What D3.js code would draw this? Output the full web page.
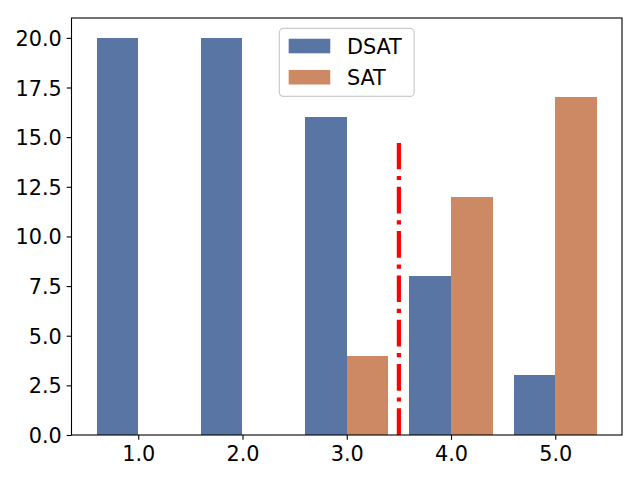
<!DOCTYPE html>
<html>
<head>
<meta charset="utf-8">
<script src="https://cdn.jsdelivr.net/npm/d3@7"></script>
<style>
  body { margin: 0; background: #fff; }
  text { font-family: "DejaVu Sans", sans-serif; fill: #000; }
</style>
</head>
<body>
<div id="chart"></div>
<script>
(function(){

    const width = 640;
    const height = 480;

    // data
    const categories = [1, 2, 3, 4, 5];
    const dsatValues = [20, 20, 16, 8, 3];
    const satValues = [0, 0, 4, 12, 17];
    const seriesNames = ['DSAT', 'SAT'];
    const yTicks = [0, 2.5, 5, 7.5, 10, 12.5, 15, 17.5, 20];
    const splitX = 3.5;       // vertical dash-dot marker
    const splitTopFrac = 0.7; // marker height as fraction of axes

    const colors = ['#5975a4', '#cc8963'];
    const barWidth = 0.4;
    const fontSize = 20.8;

    const margin = {left: 71.5, right: 18, top: 18, bottom: 45};

    const svg = d3.select("#chart")
        .append("svg")
        .attr("width", width)
        .attr("height", height);

    const x = d3.scaleLinear()
        .domain([0.36, 5.64])
        .range([margin.left, width - margin.right]);

    const y = d3.scaleLinear()
        .domain([0, 21])
        .range([height - margin.bottom, margin.top]);

    const series = [dsatValues, satValues];

    // bars
    series.forEach(function(values, si){
        svg.append("g")
            .attr("shape-rendering", "crispEdges")
            .selectAll("rect")
            .data(categories.map(function(c, i){ return {c: c, v: values[i]}; }))
            .enter().append("rect")
            .attr("x", function(d){ return si === 0 ? x(d.c - barWidth) : x(d.c); })
            .attr("width", function(d){ return x(d.c + barWidth) - x(d.c); })
            .attr("y", function(d){ return y(d.v); })
            .attr("height", function(d){ return y(0) - y(d.v); })
            .attr("fill", colors[si]);
    });

    // dash-dot line, drawn bottom to top like axvline
    const y0 = y.range()[0], y1 = y.range()[1];
    svg.append("path")
        .attr("d", d3.line()([[x(splitX), y0], [x(splitX), y0 - (y0 - y1) * splitTopFrac]]))
        .attr("stroke", "red")
        .attr("stroke-width", 4.17)
        .attr("stroke-dasharray", "26.7,6.7,4.2,6.7")
        .attr("fill", "none");

    // axes
    const xAxis = d3.axisBottom(x)
        .tickValues(categories)
        .tickFormat(d3.format(".1f"))
        .tickSizeInner(4.86)
        .tickSizeOuter(0)
        .tickPadding(4.86);

    const yAxis = d3.axisLeft(y)
        .tickValues(yTicks)
        .tickFormat(d3.format(".1f"))
        .tickSizeInner(4.86)
        .tickSizeOuter(0)
        .tickPadding(4.86);

    const gx = svg.append("g")
        .attr("transform", `translate(0,${y(0)})`)
        .call(xAxis);
    const gy = svg.append("g")
        .attr("transform", `translate(${x.range()[0]},0)`)
        .call(yAxis);

    [gx, gy].forEach(function(g){
        g.select(".domain").remove();
        g.selectAll(".tick line").attr("stroke", "#000").attr("stroke-width", 1.1);
        g.selectAll(".tick text")
            .attr("font-size", fontSize)
            .attr("font-family", '"DejaVu Sans", sans-serif')
            .attr("fill", "#000");
    });
    gx.selectAll(".tick text").attr("dy", "0.76em");
    gy.selectAll(".tick text").attr("dy", "0.36em");

    // frame
    svg.append("rect")
        .attr("x", x.range()[0])
        .attr("y", y.range()[1])
        .attr("width", x.range()[1] - x.range()[0])
        .attr("height", y.range()[0] - y.range()[1])
        .attr("fill", "none")
        .attr("stroke", "#000")
        .attr("stroke-width", 1.1);

    // legend, upper center
    const legend = svg.append("g");
    const legendTop = y.range()[1] + 0.5 * fontSize;
    const pad = 0.4 * fontSize;
    const handleLen = 2 * fontSize;
    const textPad = 0.8 * fontSize;
    const rowH = 1.5 * fontSize;

    const frame = legend.append("rect")
        .attr("rx", 4).attr("ry", 4)
        .attr("fill", "#fff")
        .attr("fill-opacity", 0.8)
        .attr("stroke", "#cccccc")
        .attr("stroke-width", 1.2);

    const items = legend.selectAll(".item")
        .data(seriesNames)
        .enter().append("g")
        .attr("class", "item");

    items.append("rect")
        .attr("width", handleLen)
        .attr("height", 0.7 * fontSize)
        .attr("x", pad + 1)
        .attr("y", function(d, i){ return pad + 9.3 + i * rowH - 0.35 * fontSize; })
        .attr("fill", function(d, i){ return colors[i]; });

    const labels = items.append("text")
        .attr("x", pad + 1 + handleLen + textPad)
        .attr("y", function(d, i){ return pad + 9.3 + i * rowH + 7.6; })
        .attr("font-size", fontSize)
        .text(function(d){ return d; });

    let maxW = 0;
    labels.each(function(){ maxW = Math.max(maxW, this.getComputedTextLength()); });
    const legendW = pad + 1 + handleLen + textPad + maxW + pad + 4;
    const legendH = 68;
    frame.attr("width", legendW).attr("height", legendH);

    const cx = (x.range()[0] + x.range()[1]) / 2;
    legend.attr("transform", `translate(${cx - legendW / 2},${legendTop})`);

}());
</script>
</body>
</html>
